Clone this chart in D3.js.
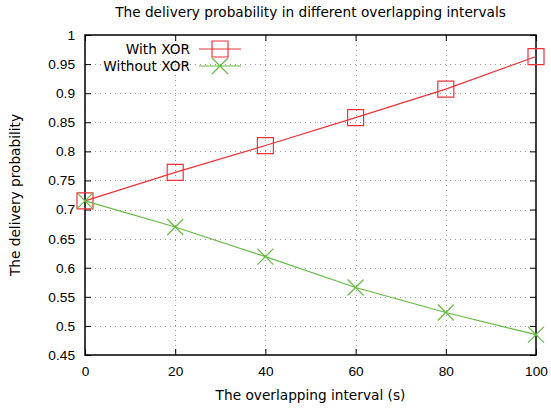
<!DOCTYPE html>
<html>
<head>
<meta charset="utf-8">
<script src="https://cdn.jsdelivr.net/npm/d3@7"></script>
<style>
  body { margin: 0; background: #fff; }
  svg { display: block; font-family: "DejaVu Sans", sans-serif; }
</style>
</head>
<body>
<div class="chart"></div>
<script>
const intervals = [0, 20, 40, 60, 80, 100];
const withXor = [0.715, 0.764, 0.810, 0.858, 0.907, 0.963];
const withoutXor = [0.715, 0.670, 0.619, 0.566, 0.523, 0.485];
const xTicks = [0, 20, 40, 60, 80, 100];
const yTicks = [0.45, 0.5, 0.55, 0.6, 0.65, 0.7, 0.75, 0.8, 0.85, 0.9, 0.95, 1];
const seriesNames = ['With XOR', 'Without XOR'];

function drawChart() {
  const w = 551;
  const h = 410;
  const padding = { top: 35, right: 15, bottom: 55, left: 85 };
  const red = '#f0323a';
  const green = '#66bb44';
  const fontSize = '13.7px';

  const xScale = d3.scaleLinear()
    .domain([0, 100])
    .range([padding.left, w - padding.right]);
  const yScale = d3.scaleLinear()
    .domain([0.45, 1])
    .range([h - padding.bottom, padding.top]);

  const svg = d3.select('.chart')
    .append('svg')
    .attr('width', w)
    .attr('height', h);

  // dotted grid
  svg.append('g')
    .attr('class', 'grid-y')
    .selectAll('line')
    .data(yTicks.slice(1, -1))
    .join('line')
    .attr('x1', padding.left)
    .attr('x2', w - padding.right)
    .attr('y1', (d) => Math.round(yScale(d)) + 0.5)
    .attr('y2', (d) => Math.round(yScale(d)) + 0.5)
    .attr('stroke', '#999')
    .attr('stroke-dasharray', '1,4');

  svg.append('g')
    .attr('class', 'grid-x')
    .selectAll('line')
    .data(xTicks.slice(1, -1))
    .join('line')
    .attr('x1', (d) => Math.round(xScale(d)) + 0.5)
    .attr('x2', (d) => Math.round(xScale(d)) + 0.5)
    .attr('y1', padding.top)
    .attr('y2', h - padding.bottom)
    .attr('stroke', '#999')
    .attr('stroke-dasharray', '1,4');

  // axes with inward ticks, mirrored on top and right
  const tickStyle = (g) => {
    g.select('.domain').remove();
    g.selectAll('text').attr('fill', '#000').style('font-size', fontSize);
    g.selectAll('line').attr('stroke', '#000');
  };

  svg.append('g')
    .attr('class', 'x-axis')
    .attr('transform', `translate(0, ${h - padding.bottom})`)
    .call(d3.axisBottom(xScale).tickValues(xTicks).tickSizeInner(-6).tickSizeOuter(0).tickPadding(11))
    .call(tickStyle);

  svg.append('g')
    .attr('class', 'x-axis-top')
    .attr('transform', `translate(0, ${padding.top})`)
    .call(d3.axisTop(xScale).tickValues(xTicks).tickSizeInner(-6).tickSizeOuter(0).tickFormat(''))
    .call(tickStyle);

  svg.append('g')
    .attr('class', 'y-axis')
    .attr('transform', `translate(${padding.left}, 0)`)
    .call(d3.axisLeft(yScale).tickValues(yTicks).tickSizeInner(-6).tickSizeOuter(0).tickPadding(10)
      .tickFormat((d) => d3.format('')(+d.toFixed(2))))
    .call(tickStyle);

  svg.append('g')
    .attr('class', 'y-axis-right')
    .attr('transform', `translate(${w - padding.right}, 0)`)
    .call(d3.axisRight(yScale).tickValues(yTicks).tickSizeInner(-6).tickSizeOuter(0).tickFormat(''))
    .call(tickStyle);

  svg.append('rect')
    .attr('x', padding.left)
    .attr('y', padding.top)
    .attr('width', w - padding.left - padding.right)
    .attr('height', h - padding.top - padding.bottom)
    .attr('fill', 'none')
    .attr('stroke', '#000')
    .attr('stroke-width', 1.5);

  // texts
  svg.append('text')
    .attr('x', (padding.left + w - padding.right) / 2)
    .attr('y', 17)
    .attr('text-anchor', 'middle')
    .style('font-size', fontSize)
    .text('The delivery probability in different overlapping intervals');

  svg.append('text')
    .attr('x', (padding.left + w - padding.right) / 2)
    .attr('y', 400)
    .attr('text-anchor', 'middle')
    .style('font-size', fontSize)
    .text('The overlapping interval (s)');

  svg.append('text')
    .attr('transform', `translate(20, ${(padding.top + h - padding.bottom) / 2}) rotate(-90)`)
    .attr('text-anchor', 'middle')
    .style('font-size', fontSize)
    .text('The delivery probability');

  const line = d3.line()
    .x((d, i) => xScale(intervals[i]))
    .y((d) => yScale(d));

  const series = [
    { name: seriesNames[0], values: withXor, color: red, marker: 'square' },
    { name: seriesNames[1], values: withoutXor, color: green, marker: 'cross' }
  ];

  const markerPath = (type, s) => {
    const p = d3.path();
    if (type === 'square') {
      p.rect(-s, -s, 2 * s, 2 * s);
    } else {
      p.moveTo(-s, -s); p.lineTo(s, s);
      p.moveTo(-s, s); p.lineTo(s, -s);
    }
    return p.toString();
  };

  series.forEach((s, k) => {
    svg.append('path')
      .datum(s.values)
      .attr('d', line)
      .attr('fill', 'none')
      .attr('stroke', s.color)
      .attr('stroke-width', 1.2);

    svg.append('g')
      .selectAll('path')
      .data(s.values)
      .join('path')
      .attr('transform', (d, i) => `translate(${xScale(intervals[i])}, ${yScale(d)})`)
      .attr('d', markerPath(s.marker, 8))
      .attr('fill', 'none')
      .attr('stroke', s.color)
      .attr('stroke-width', 1.2);

    // legend
    const ly = 49 + k * 17;
    svg.append('text')
      .attr('x', 190)
      .attr('y', ly)
      .attr('dy', '0.35em')
      .attr('text-anchor', 'end')
      .style('font-size', fontSize)
      .text(s.name);
    svg.append('line')
      .attr('x1', 199).attr('x2', 241)
      .attr('y1', ly).attr('y2', ly)
      .attr('stroke', s.color)
      .attr('stroke-width', 1.2);
    svg.append('path')
      .attr('transform', `translate(220, ${ly})`)
      .attr('d', markerPath(s.marker, 8))
      .attr('fill', 'none')
      .attr('stroke', s.color)
      .attr('stroke-width', 1.2);
  });
}

drawChart();
</script>
</body>
</html>
